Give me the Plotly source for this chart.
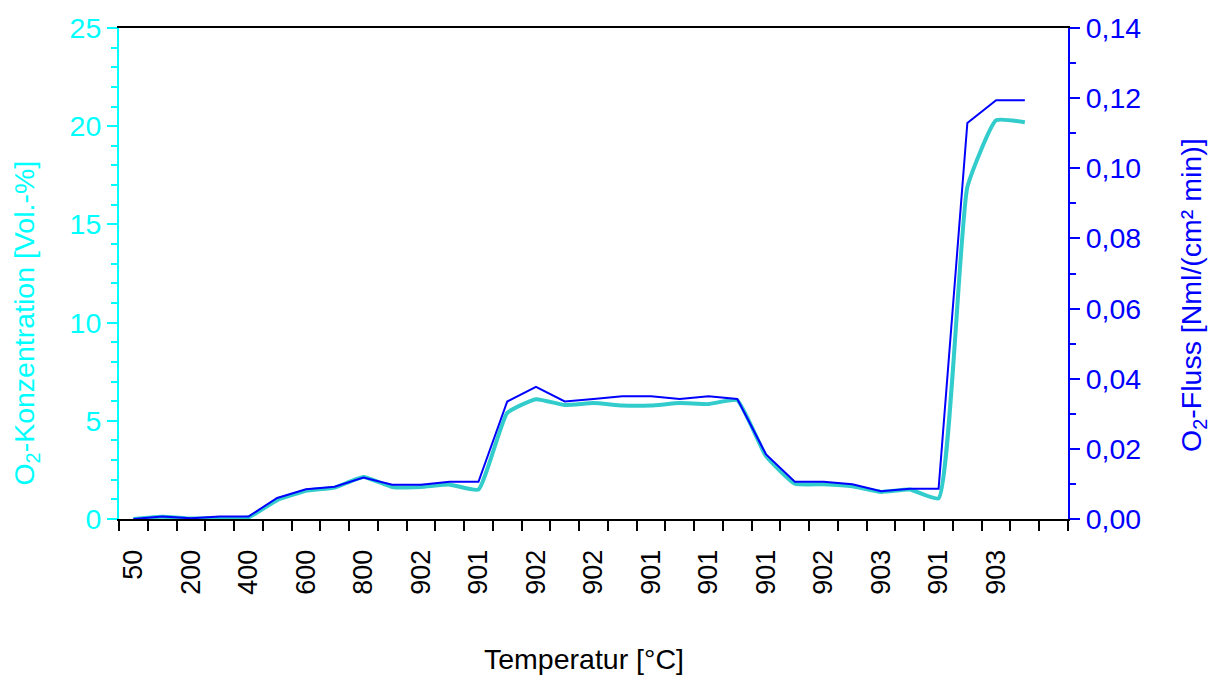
import numpy as np
import plotly.graph_objects as go

# Temperature labels shown under every second measurement slot
temp_labels = ["50", "200", "400", "600", "800", "902", "901", "902",
               "902", "901", "901", "901", "902", "903", "901", "903"]

# O2 concentration [Vol.-%] per measurement (left axis)
o2_conc = [0.0, 0.12, 0.02, 0.05, 0.08, 0.96, 1.43, 1.60, 2.14, 1.63,
           1.63, 1.75, 1.50, 5.40, 6.10, 5.80, 5.90, 5.78, 5.78, 5.90,
           5.85, 6.05, 3.20, 1.80, 1.77, 1.67, 1.38, 1.50, 1.05, 16.9,
           20.3, 20.2]

# O2 flux [Nml/(cm² min)] per measurement (right axis)
o2_flux = [0.0, 0.0007, 0.0002, 0.0007, 0.0007, 0.0060, 0.0085, 0.0092,
           0.0118, 0.0098, 0.0098, 0.0106, 0.0106, 0.0335, 0.0377, 0.0335,
           0.0342, 0.0350, 0.0350, 0.0342, 0.0350, 0.0342, 0.0184, 0.0106,
           0.0106, 0.0099, 0.0079, 0.0086, 0.0086, 0.1129, 0.1194, 0.1194]

n_slots = 33  # slots on the category axis (last one stays empty)

idx = np.arange(len(o2_flux))
label_pos = np.arange(len(temp_labels)) * 2
slot_edges = np.arange(n_slots + 1) - 0.5

CYAN = "#00FFFF"
BLUE = "#0000FF"
FONT = "Arial, Liberation Sans, sans-serif"
FS = 28.5

fig = go.Figure()

fig.add_trace(go.Scatter(
    x=idx, y=o2_conc, mode="lines",
    line=dict(color="#33CCCC", width=4, shape="spline", smoothing=0.4),
    yaxis="y", showlegend=False, hoverinfo="skip",
))
fig.add_trace(go.Scatter(
    x=idx, y=o2_flux, mode="lines",
    line=dict(color=BLUE, width=2),
    yaxis="y2", showlegend=False, hoverinfo="skip",
))

fig.update_layout(
    width=1215, height=677,
    margin=dict(l=119, r=147, t=25, b=158),
    paper_bgcolor="white", plot_bgcolor="white",
    font=dict(family=FONT, size=FS, color="black"),
    separators=",.",
    xaxis=dict(
        range=[-0.5, n_slots - 0.5],
        tickmode="array", tickvals=label_pos, ticktext=temp_labels,
        tickangle=-90, ticks="", tickfont=dict(size=27, color="black"),
        ticklabelstandoff=18,
        minor=dict(tickmode="array", tickvals=slot_edges, ticks="outside",
                   ticklen=10, tickwidth=2, tickcolor="black"),
        showline=True, linecolor="black", linewidth=2, mirror=True,
        showgrid=False, zeroline=False,
    ),
    yaxis=dict(
        range=[0, 25], tickmode="linear", tick0=0, dtick=5,
        ticks="outside", ticklen=10, tickwidth=2, tickcolor=CYAN,
        minor=dict(dtick=1, ticks="outside", ticklen=6, tickwidth=2,
                   tickcolor=CYAN),
        tickfont=dict(color=CYAN, size=FS),
        showline=True, linecolor=CYAN, linewidth=2,
        showgrid=False, zeroline=False,
    ),
    yaxis2=dict(
        range=[0, 0.14], tickmode="linear", tick0=0, dtick=0.02,
        tickformat=".2f", overlaying="y", side="right",
        ticks="outside", ticklen=10, tickwidth=2, tickcolor=BLUE,
        minor=dict(dtick=0.01, ticks="outside", ticklen=6, tickwidth=2,
                   tickcolor=BLUE),
        tickfont=dict(color=BLUE, size=FS),
        showline=True, linecolor=BLUE, linewidth=2,
        showgrid=False, zeroline=False,
    ),
    annotations=[
        dict(text="O<sub>2</sub>-Konzentration [Vol.-%]", textangle=-90,
             xref="paper", yref="paper", x=-0.098, y=0.40,
             xanchor="center", yanchor="middle", showarrow=False,
             font=dict(color=CYAN, size=FS)),
        dict(text="O<sub>2</sub>-Fluss [Nml/(cm² min)]", textangle=-90,
             xref="paper", yref="paper", x=1.131, y=0.455,
             xanchor="center", yanchor="middle", showarrow=False,
             font=dict(color=BLUE, size=FS)),
        dict(text="Temperatur [°C]",
             xref="paper", yref="paper", x=0.49, y=-0.285,
             xanchor="center", yanchor="middle", showarrow=False,
             font=dict(color="black", size=FS)),
    ],
)

fig.write_html("out.html")
